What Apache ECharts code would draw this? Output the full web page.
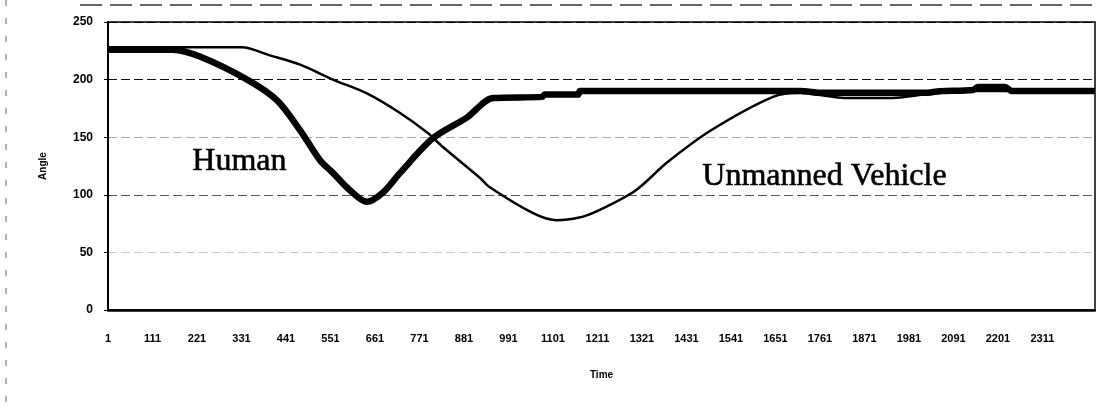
<!DOCTYPE html>
<html>
<head>
<meta charset="utf-8">
<script src="https://cdn.jsdelivr.net/npm/echarts@6/dist/echarts.min.js"></script>
<style>
  html, body { margin: 0; padding: 0; background: #fff; }
  #chart { width: 1096px; height: 413px; }
</style>
</head>
<body>
<div id="chart"></div>
<script>
// ---- data ----
const xTickLabels = [1, 111, 221, 331, 441, 551, 661, 771, 881, 991, 1101, 1211, 1321, 1431, 1541, 1651, 1761, 1871, 1981, 2091, 2201, 2311];
const yTicks = [0, 50, 100, 150, 200, 250];

const humanTime  = [1, 162, 228, 345, 419, 476, 525, 557, 599, 641, 681, 723, 804, 888, 953, 1074, 1081, 1163, 1168, 1712, 1766, 2018, 2058, 2139, 2152, 2218, 2236, 2440];
const humanAngle = [226, 226, 220, 200, 182, 156, 130, 119, 104, 94, 102, 119, 149, 167, 184, 185, 187, 187, 190, 190, 188.5, 188.5, 190, 191, 193.5, 193.5, 190, 190];

const vehicleTime  = [1, 332, 401, 476, 557, 641, 723, 790, 829, 921, 943, 1052, 1108, 1163, 1217, 1306, 1383, 1492, 1645, 1712, 1766, 1820, 1941, 2018, 2139, 2440];
const vehicleAngle = [228, 228, 221, 213, 200, 188, 171, 154, 141.5, 114.6, 107, 84, 78, 80, 87, 104, 128, 156, 185, 188.5, 186.5, 184, 184, 187, 190, 190];

const seriesNames = ['Human', 'Unmanned Vehicle'];
const axisNames = { x: 'Time', y: 'Angle' };

// ---- chart ----
const X_OFFSET = 1; // axis starts at time 1
const toPairs = (ts, vs) => ts.map((t, i) => [t - X_OFFSET, vs[i]]);

const chart = echarts.init(document.getElementById('chart'), null, { renderer: 'canvas' });
const labelFont = { fontFamily: 'Liberation Sans, Arial, sans-serif', fontWeight: 'bold', fontSize: 11, color: '#000' };

chart.setOption({
  animation: false,
  backgroundColor: '#fff',
  grid: { left: 108, right: 1, top: 22, bottom: 103, show: true, borderColor: '#000', borderWidth: 1.5 },
  xAxis: {
    type: 'value',
    min: 0,
    max: 2440,
    interval: 110,
    name: axisNames.x,
    nameLocation: 'middle',
    nameGap: 60,
    nameTextStyle: { fontFamily: 'Liberation Sans, Arial, sans-serif', fontWeight: 'bold', fontSize: 10, color: '#000' },
    axisLine: { show: true, lineStyle: { color: '#000', width: 2.5 } },
    axisTick: { show: false },
    splitLine: { show: false },
    axisLabel: Object.assign({}, labelFont, {
      margin: 23,
      showMaxLabel: false,
      formatter: v => {
        const t = v + X_OFFSET;
        return xTickLabels.indexOf(t) >= 0 ? String(t) : '';
      }
    })
  },
  yAxis: {
    type: 'value',
    min: yTicks[0],
    max: yTicks[yTicks.length - 1],
    interval: 50,
    name: axisNames.y,
    nameLocation: 'middle',
    nameGap: 60,
    nameTextStyle: { fontFamily: 'Liberation Sans, Arial, sans-serif', fontWeight: 'bold', fontSize: 10, color: '#000' },
    axisLine: { show: true, lineStyle: { color: '#000', width: 2 } },
    axisTick: { show: true, length: 4, lineStyle: { color: '#000' } },
    axisLabel: Object.assign({}, labelFont, { fontSize: 12, margin: 15 }),
    splitLine: {
      show: true,
      lineStyle: {
        type: [9, 4],
        width: 1.2,
        color: ['#000', '#c8c8c8', '#555', '#aaa', '#111', '#000']
      }
    }
  },
  series: [
    {
      name: seriesNames[1],
      type: 'line',
      data: toPairs(vehicleTime, vehicleAngle),
      showSymbol: false,
      smooth: 0.3,
      lineStyle: { color: '#000', width: 2.5 },
      z: 2
    },
    {
      name: seriesNames[0],
      type: 'line',
      data: toPairs(humanTime, humanAngle),
      showSymbol: false,
      smooth: 0.3,
      lineStyle: { color: '#000', width: 6.5 },
      z: 3
    }
  ],
  graphic: [
    { type: 'text', left: 192, top: 145, style: { text: seriesNames[0], font: '32px "Liberation Serif", "Times New Roman", serif', fill: '#000', stroke: '#000', lineWidth: 0.6 } },
    { type: 'text', left: 702, top: 160, style: { text: seriesNames[1], font: '32px "Liberation Serif", "Times New Roman", serif', fill: '#000', stroke: '#000', lineWidth: 0.6 } },
    { type: 'line', shape: { x1: 80, y1: 5, x2: 1096, y2: 5 }, style: { stroke: '#333', lineWidth: 1.5, lineDash: [22, 8] } },
    { type: 'line', shape: { x1: 6, y1: 0, x2: 6, y2: 413 }, style: { stroke: '#666', lineWidth: 1, lineDash: [6, 12] } }
  ]
});
</script>
</body>
</html>
